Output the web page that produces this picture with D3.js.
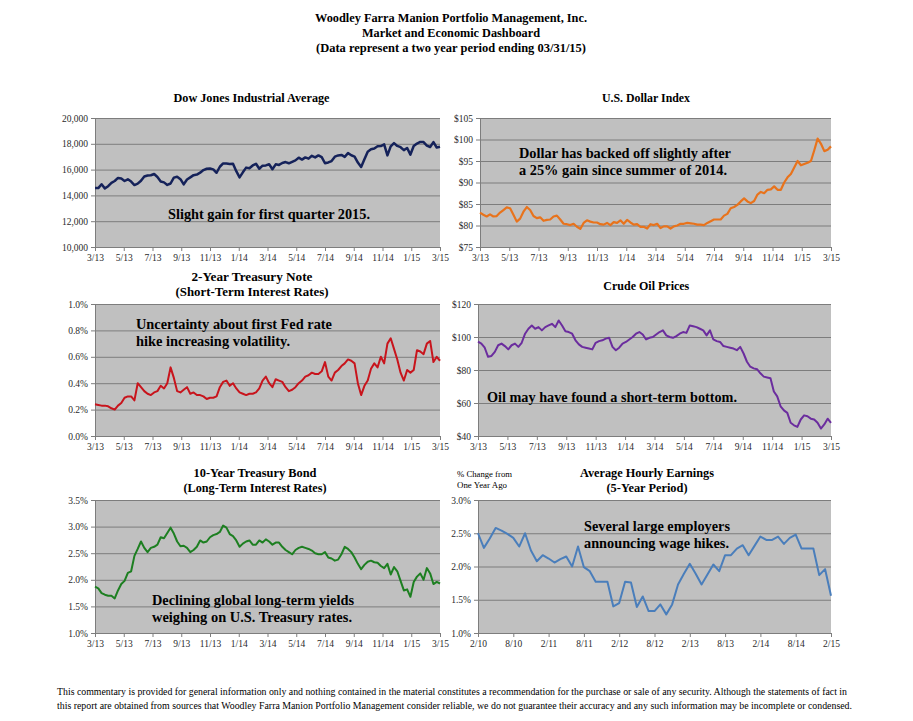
<!DOCTYPE html>
<html><head><meta charset="utf-8">
<script src="https://cdn.jsdelivr.net/npm/d3@7"></script>
<style>
html,body{margin:0;padding:0;background:#fff;}
svg{display:block;}
</style></head>
<body>
<svg id="c" width="913" height="721"></svg>
<script>
// ---------------- DATA ----------------
const twoYearLabels = ["3/13","5/13","7/13","9/13","11/13","1/14","3/14","5/14","7/14","9/14","11/14","1/15","3/15"];
const fiveYearLabels = ["2/10","8/10","2/11","8/11","2/12","8/12","2/13","8/13","2/14","8/14","2/15"];

const dowTicks = [10000,12000,14000,16000,18000,20000];
const dollarTicks = [75,80,85,90,95,100,105];
const twoYrTicks = [0,0.2,0.4,0.6,0.8,1.0];
const oilTicks = [40,60,80,100,120];
const tenYrTicks = [1.0,1.5,2.0,2.5,3.0,3.5];
const earnTicks = [1.0,1.5,2.0,2.5,3.0];

// weekly values, two years ending 03/31/15
const dowValues = [14579,14565,14865,14547,14712,14974,15118,15354,15303,15116,
15248,15070,14800,14910,15136,15464,15544,15559,15658,15425,
15081,15010,14810,14922,15376,15451,15258,14850,15237,15400,
15570,15615,15761,15962,16065,16086,16020,15755,16221,16479,
16470,16437,16459,15880,15400,15790,16154,16104,16322,16452,
16065,16303,16323,16413,16027,16409,16361,16512,16583,16491,
16606,16717,16924,16776,16947,16851,17068,16944,17100,16961,
16493,16554,16663,17001,17098,17137,16988,17280,17113,17010,
16544,16200,16805,17391,17573,17634,17810,17828,17959,17100,
17804,18053,17833,17737,17512,17672,17165,17824,18019,18140,
18133,17857,17750,18128,17713,17776];

const dollarValues = [82.99,82.5,82.1,82.6,82.1,82.2,83.0,83.6,84.2,84.0,
82.5,80.9,81.6,83.2,84.3,83.6,82.2,81.7,81.9,81.1,
81.3,81.4,82.1,82.3,81.4,80.4,80.3,80.1,80.4,79.7,
79.2,80.6,81.2,80.9,80.7,80.7,80.3,80.2,80.6,80.1,
80.8,80.6,81.2,80.4,81.3,80.7,80.2,80.3,79.7,79.7,
79.3,80.3,80.1,80.4,79.4,79.8,79.8,79.3,79.8,80.0,
80.4,80.4,80.6,80.5,80.4,80.2,80.2,80.1,80.6,81.0,
81.4,81.4,81.4,82.3,82.7,84.0,84.3,84.8,85.6,86.3,
85.6,85.2,85.7,87.2,87.8,87.5,88.3,88.4,89.1,88.3,
88.3,90.0,91.2,92.0,93.5,95.0,94.0,94.3,94.6,95.0,
97.5,100.2,99.0,97.3,97.6,98.4];

const twoYrValues = [0.24,0.235,0.23,0.23,0.225,0.21,0.20,0.23,0.25,0.29,
0.30,0.30,0.27,0.40,0.37,0.34,0.32,0.31,0.33,0.34,
0.38,0.36,0.40,0.52,0.44,0.34,0.33,0.35,0.37,0.32,
0.33,0.31,0.31,0.30,0.28,0.29,0.29,0.30,0.37,0.41,
0.42,0.38,0.40,0.36,0.33,0.32,0.31,0.32,0.32,0.33,
0.36,0.42,0.45,0.40,0.37,0.43,0.42,0.41,0.37,0.34,
0.35,0.37,0.40,0.42,0.45,0.46,0.48,0.47,0.47,0.49,
0.56,0.45,0.42,0.48,0.50,0.53,0.55,0.58,0.57,0.55,
0.40,0.31,0.38,0.42,0.51,0.55,0.52,0.60,0.55,0.70,
0.74,0.66,0.58,0.48,0.42,0.50,0.48,0.50,0.65,0.64,
0.62,0.70,0.72,0.56,0.60,0.57];

const oilValues = [97.2,96,93.5,88,88.5,91,95,96,94.5,92.5,
95,96,94,96.5,102,105,107,105,106,104,
106,107,108,106,110,107,103.5,103,102,98,
95.5,94,93.5,93,92.5,96.5,97.5,98,99,99.5,
94,92,93.5,96,97,98.5,100,102,103,101.5,
98.5,99.5,100,101.5,103,104,101,100,99.5,100.5,
102,103,102.5,107,106.5,106,105,104,101,104,
98.5,97.5,97,94.5,94,93.5,93,92,94,90,
85,82,81,80.5,78,76,75.5,75,67,64,
58,55.5,54,48,46.5,45.5,50,52.5,52,50.5,
50,48,44.5,47,50.5,48];

const tenYrValues = [1.87,1.84,1.75,1.72,1.70,1.70,1.65,1.80,1.92,1.98,
2.13,2.16,2.45,2.58,2.72,2.60,2.52,2.60,2.62,2.66,
2.80,2.78,2.88,2.98,2.87,2.72,2.63,2.64,2.60,2.52,
2.56,2.62,2.74,2.70,2.72,2.80,2.84,2.86,2.90,3.02,
2.98,2.86,2.82,2.74,2.62,2.68,2.72,2.74,2.66,2.66,
2.74,2.70,2.76,2.72,2.66,2.70,2.70,2.62,2.56,2.52,
2.48,2.56,2.60,2.62,2.60,2.58,2.55,2.50,2.48,2.48,
2.52,2.42,2.40,2.36,2.38,2.48,2.62,2.58,2.52,2.42,
2.30,2.20,2.28,2.34,2.36,2.33,2.32,2.26,2.22,2.30,
2.10,2.24,2.16,1.98,1.80,1.82,1.68,1.96,2.06,2.12,
2.00,2.22,2.12,1.92,1.96,1.93];

// monthly, Feb 2010 - Feb 2015
const earnValues = [2.50,2.28,2.42,2.58,2.54,2.49,2.43,2.30,2.50,2.24,
2.08,2.17,2.12,2.06,2.11,2.15,2.00,2.30,1.99,1.93,
1.77,1.77,1.77,1.40,1.45,1.77,1.76,1.39,1.55,1.33,
1.33,1.43,1.28,1.43,1.73,1.89,2.04,1.89,1.73,1.88,
2.03,1.93,2.17,2.17,2.27,2.32,2.17,2.31,2.45,2.40,
2.40,2.45,2.34,2.43,2.48,2.27,2.27,2.27,1.87,1.96,
1.56];

// ---------------- DRAW ----------------
const svg = d3.select("#c");
const SERIF = "'Liberation Serif','Times New Roman',serif";

function text(x, y, str, opt) {
  opt = opt || {};
  const t = svg.append("text").attr("x", x).attr("y", y).text(str)
    .attr("font-family", SERIF)
    .attr("font-size", opt.size || 12)
    .attr("font-weight", opt.bold ? "bold" : "normal")
    .attr("fill", opt.fill || "#000")
    .attr("text-anchor", opt.anchor || "start");
  if (opt.len) t.attr("textLength", opt.len).attr("lengthAdjust", "spacingAndGlyphs");
  return t;
}

function panel(cfg) {
  const g = svg.append("g");
  const x = d3.scaleLinear().domain([0, cfg.values.length - 1]).range([cfg.x0, cfg.x1]);
  const y = d3.scaleLinear().domain([cfg.ticks[0], cfg.ticks[cfg.ticks.length - 1]]).range([cfg.y1, cfg.y0]);
  const xl = d3.scalePoint().domain(cfg.labels).range([cfg.x0, cfg.x1]).padding(0);

  g.append("rect").attr("x", cfg.x0).attr("y", cfg.y0)
    .attr("width", cfg.x1 - cfg.x0).attr("height", cfg.y1 - cfg.y0).attr("fill", "#c0c0c0");

  // gridlines
  const grid = g.append("g").attr("transform", `translate(${cfg.x0},0)`)
    .call(d3.axisLeft(y).tickValues(cfg.ticks).tickSize(-(cfg.x1 - cfg.x0)).tickFormat(""));
  grid.select(".domain").remove();
  grid.selectAll("line").attr("stroke", "#7d7d7d").attr("stroke-width", 1);

  // y axis
  const ya = g.append("g").attr("transform", `translate(${cfg.x0},0)`)
    .call(d3.axisLeft(y).tickValues(cfg.ticks).tickSize(4).tickPadding(3).tickFormat(cfg.fmt));
  ya.select(".domain").attr("stroke", "#7d7d7d");
  ya.selectAll("line").attr("stroke", "#7d7d7d");
  ya.selectAll("text").attr("font-family", SERIF).attr("font-size", 9.5).attr("fill", "#2a2a2a");

  // x axis
  const xa = g.append("g").attr("transform", `translate(0,${cfg.y1})`)
    .call(d3.axisBottom(xl).tickSize(4).tickPadding(3));
  xa.select(".domain").attr("stroke", "#7d7d7d");
  xa.selectAll("line").attr("stroke", "#7d7d7d");
  xa.selectAll("text").attr("font-family", SERIF).attr("font-size", 9.5).attr("fill", "#2a2a2a");

  // line
  const line = d3.line().x((d, i) => x(i)).y(d => y(d)).curve(d3.curveLinear);
  g.append("path").datum(cfg.values).attr("d", line)
    .attr("fill", "none").attr("stroke", cfg.color).attr("stroke-width", cfg.width || 2.2)
    .attr("stroke-linejoin", "round");

  // titles
  cfg.title.forEach((t, i) => text(cfg.tx, cfg.ty + i * 15, t[0], {bold: true, size: 12, anchor: "middle", len: t[1]}));
  // annotation
  cfg.note.forEach((n, i) => text(cfg.nx, cfg.ny + i * 16.5, n[0], {bold: true, size: 15, len: n[1]}));
}

const fmtComma = d3.format(",");
const fmtDollar = d => "$" + d;
const fmtPct = d => d.toFixed(1) + "%";

panel({values: dowValues, ticks: dowTicks, labels: twoYearLabels, fmt: fmtComma,
  x0: 95, x1: 440, y0: 118, y1: 247, color: "#15225a", width: 2.5,
  title: [["Dow Jones Industrial Average", 156]], tx: 251.5, ty: 102,
  note: [["Slight gain for first quarter 2015.", 202]], nx: 168, ny: 219});

panel({values: dollarValues, ticks: dollarTicks, labels: twoYearLabels, fmt: fmtDollar,
  x0: 480, x1: 831, y0: 118, y1: 247, color: "#e8731c", width: 2.2,
  title: [["U.S. Dollar Index", 88]], tx: 646, ty: 102,
  note: [["Dollar has backed off slightly after", 212], ["a 25% gain since summer of 2014.", 208]], nx: 519, ny: 158});

panel({values: twoYrValues, ticks: twoYrTicks, labels: twoYearLabels, fmt: fmtPct,
  x0: 95, x1: 440, y0: 304, y1: 436, color: "#c8141c", width: 2.0,
  title: [["2-Year Treasury Note", 121], ["(Short-Term Interest Rates)", 153]], tx: 252, ty: 281,
  note: [["Uncertainty about first Fed rate", 196], ["hike increasing volatility.", 154]], nx: 136, ny: 329});

panel({values: oilValues, ticks: oilTicks, labels: twoYearLabels, fmt: fmtDollar,
  x0: 478, x1: 831, y0: 304, y1: 436, color: "#6b2d9e", width: 2.0,
  title: [["Crude Oil Prices", 86]], tx: 646.3, ty: 290,
  note: [["Oil may have found a short-term bottom.", 250]], nx: 487, ny: 402});

panel({values: tenYrValues, ticks: tenYrTicks, labels: twoYearLabels, fmt: fmtPct,
  x0: 95, x1: 440, y0: 500, y1: 633, color: "#1d7f21", width: 2.0,
  title: [["10-Year Treasury Bond", 123], ["(Long-Term Interest Rates)", 143]], tx: 255, ty: 477,
  note: [["Declining global long-term yields", 202], ["weighing on U.S. Treasury rates.", 200]], nx: 152, ny: 605});

panel({values: earnValues, ticks: earnTicks, labels: fiveYearLabels, fmt: fmtPct,
  x0: 478, x1: 831, y0: 500, y1: 633, color: "#4a7ebb", width: 2.0,
  title: [["Average Hourly Earnings", 134], ["(5-Year Period)", 81]], tx: 647, ty: 477,
  note: [["Several large employers", 146], ["announcing wage hikes.", 145]], nx: 584, ny: 531});

text(457, 477, "% Change from", {size: 8.5, len: 55});
text(457, 488, "One Year Ago", {size: 8.5, len: 50});

// header
text(451, 22, "Woodley Farra Manion Portfolio Management, Inc.", {bold: true, size: 12.5, anchor: "middle", len: 272});
text(451, 37, "Market and Economic Dashboard", {bold: true, size: 12.5, anchor: "middle", len: 178});
text(451, 52, "(Data represent a two year period ending 03/31/15)", {bold: true, size: 12.5, anchor: "middle", len: 270});

// footer
text(57, 695, "This commentary is provided for general information only and nothing contained in the material constitutes a recommendation for the purchase or sale of any security. Although the statements of fact in", {size: 10, len: 790});
text(57, 709, "this report are obtained from sources that Woodley Farra Manion Portfolio Management consider reliable, we do not guarantee their accuracy and any such information may be incomplete or condensed.", {size: 10, len: 795});
</script>
</body></html>
